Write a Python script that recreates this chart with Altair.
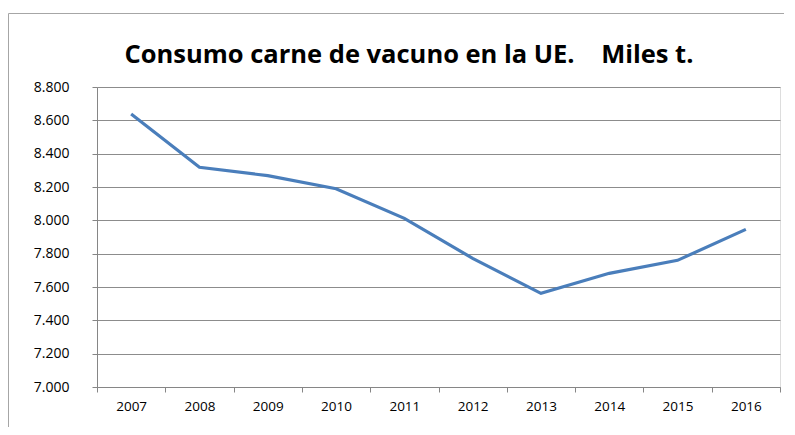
import altair as alt
import pandas as pd

years = ["2007", "2008", "2009", "2010", "2011", "2012", "2013", "2014", "2015", "2016"]
consumo = [8638, 8318, 8268, 8190, 8012, 7772, 7562, 7682, 7760, 7946]
title_text = "Consumo carne de vacuno en la UE.\u00a0\u00a0\u00a0 Miles t."

df = pd.DataFrame({"year": years, "value": consumo})

FONT = "Open Sans, sans-serif"

W, H = 683, 300
PAD_L, PAD_T = 89, 79

frame = alt.Chart(pd.DataFrame({"a": [0]})).mark_rect(
    fill="white", fillOpacity=0, stroke="#a6a6a6", strokeWidth=1
).encode(
    x=alt.value(-PAD_L + 0.5), x2=alt.value(W + 200),
    y=alt.value(-PAD_T + 5.5), y2=alt.value(H + 200)
)

title = alt.Chart(pd.DataFrame({"t": [title_text]})).mark_text(
    font=FONT, fontSize=25.5, fontWeight="bold", color="#000000",
    align="center", baseline="alphabetic"
).encode(
    text="t:N", x=alt.value(312), y=alt.value(-24)
)

line = alt.Chart(df).mark_line(color="#4a7ebb", strokeWidth=3.2).encode(
    x=alt.X("year:N", sort=years,
            scale=alt.Scale(paddingInner=0, paddingOuter=0),
            axis=alt.Axis(title=None, labelAngle=0, tickBand="extent",
                          labelFont=FONT, labelFontSize=13.5, labelColor="#000000",
                          labelPadding=7, tickSize=5, tickColor="#868686",
                          domainColor="#868686", grid=False)),
    y=alt.Y("value:Q",
            scale=alt.Scale(domain=[7000, 8800], nice=False, zero=False),
            axis=alt.Axis(title=None, values=[7000, 7200, 7400, 7600, 7800, 8000, 8200, 8400, 8600, 8800],
                          labelExpr="replace(format(datum.value, ',.0f'), ',', '.')",
                          labelFont=FONT, labelFontSize=14, labelColor="#000000",
                          labelPadding=23, tickSize=5, tickColor="#868686",
                          domainColor="#868686", gridColor="#8c8c8c", gridWidth=1.2))
)

chart = alt.layer(frame, title, line).properties(
    width=W, height=H,
    padding={"left": PAD_L, "top": PAD_T, "right": 4, "bottom": 40},
    autosize=alt.AutoSizeParams(type="none")
).configure_view(stroke=None).configure(background="white")

chart.save("out.html", embed_options={"renderer": "svg", "actions": False})
